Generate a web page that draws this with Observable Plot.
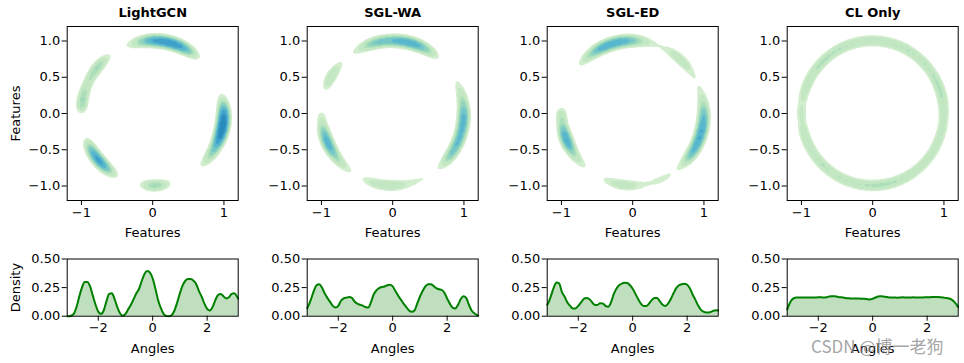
<!DOCTYPE html>
<html>
<head>
<meta charset="utf-8">
<script src="https://cdn.jsdelivr.net/npm/d3@7"></script>
<script src="https://cdn.jsdelivr.net/npm/@observablehq/plot@0.6"></script>
<style>
  html, body { margin: 0; padding: 0; background: #ffffff; }
  #root { position: relative; width: 964px; height: 363px; overflow: hidden; background: #ffffff; }
  .layer { position: absolute; }
  .layer svg { max-width: none !important; display: block; }
  #watermark { position: absolute; left: 811px; top: 338px; line-height: 16px; font-family: "Noto Sans CJK SC", "DejaVu Sans", sans-serif;
    font-size: 17px; color: rgba(140,140,140,0.8); white-space: nowrap; }
</style>
</head>
<body>
<div id="root"></div>
<script>
// ---------------- data ----------------
const titles = ["LightGCN", "SGL-WA", "SGL-ED", "CL Only"];
const featureTicksX = [-1, 0, 1];
const featureTicksY = [-1, -0.5, 0, 0.5, 1];
const angleTicks = [-2, 0, 2];
const densityTicks = [0, 0.25, 0.5];

// angle grid (radians)
const angles = [
  -3.14, -3.1, -3.0, -2.9, -2.8, -2.7, -2.6, -2.5, -2.4, -2.3,
  -2.2, -2.1, -2.0, -1.9, -1.8, -1.7, -1.6, -1.5, -1.4, -1.3,
  -1.2, -1.1, -1.0, -0.9, -0.8, -0.7, -0.6, -0.5, -0.4, -0.3,
  -0.2, -0.1, 0.0, 0.1, 0.2, 0.3, 0.4, 0.5, 0.6, 0.7,
  0.8, 0.9, 1.0, 1.1, 1.2, 1.3, 1.4, 1.5, 1.6, 1.7,
  1.8, 1.9, 2.0, 2.1, 2.2, 2.3, 2.4, 2.5, 2.6, 2.7,
  2.8, 2.9, 3.0, 3.1, 3.14
];

// angle densities
const lightgcnDensity = [
  0.0, 0.0, 0.004, 0.02, 0.08, 0.17, 0.25, 0.30, 0.30, 0.26,
  0.18, 0.10, 0.04, 0.02, 0.05, 0.13, 0.195, 0.20, 0.15, 0.08,
  0.025, 0.004, 0.02, 0.06, 0.10, 0.15, 0.20, 0.24, 0.31, 0.37,
  0.395, 0.38, 0.33, 0.24, 0.14, 0.07, 0.02, 0.003, 0.0, 0.01,
  0.05, 0.12, 0.20, 0.27, 0.31, 0.325, 0.325, 0.31, 0.28, 0.22,
  0.17, 0.11, 0.065, 0.05, 0.08, 0.14, 0.185, 0.195, 0.175, 0.155,
  0.165, 0.195, 0.20, 0.17, 0.155
];
const sglwaDensity = [
  0.07, 0.09, 0.15, 0.22, 0.27, 0.28, 0.25, 0.20, 0.16, 0.125,
  0.09, 0.075, 0.09, 0.135, 0.155, 0.162, 0.168, 0.16, 0.128, 0.11,
  0.10, 0.092, 0.08, 0.075, 0.12, 0.19, 0.225, 0.245, 0.255, 0.26,
  0.27, 0.275, 0.26, 0.22, 0.18, 0.145, 0.11, 0.08, 0.05, 0.038,
  0.05, 0.11, 0.17, 0.22, 0.26, 0.28, 0.28, 0.265, 0.245, 0.235,
  0.23, 0.205, 0.155, 0.11, 0.075, 0.068, 0.10, 0.15, 0.175, 0.16,
  0.10, 0.05, 0.025, 0.01, 0.005
];
const sgledDensity = [
  0.10, 0.115, 0.18, 0.25, 0.295, 0.285, 0.21, 0.17, 0.12, 0.09,
  0.068, 0.068, 0.09, 0.12, 0.15, 0.16, 0.15, 0.125, 0.10, 0.098,
  0.113, 0.112, 0.09, 0.082, 0.12, 0.19, 0.24, 0.27, 0.285, 0.292,
  0.29, 0.27, 0.24, 0.195, 0.15, 0.11, 0.09, 0.09, 0.11, 0.14,
  0.16, 0.16, 0.13, 0.10, 0.09, 0.11, 0.15, 0.20, 0.245, 0.27,
  0.28, 0.283, 0.275, 0.245, 0.19, 0.145, 0.095, 0.058, 0.04, 0.033,
  0.033, 0.04, 0.05, 0.052, 0.05
];
const clonlyDensity = [
  0.06, 0.085, 0.135, 0.157, 0.163, 0.164, 0.163, 0.163, 0.164, 0.163,
  0.163, 0.164, 0.165, 0.165, 0.164, 0.166, 0.172, 0.175, 0.174, 0.17,
  0.166, 0.164, 0.16, 0.157, 0.155, 0.155, 0.154, 0.154, 0.153, 0.152,
  0.149, 0.147, 0.153, 0.163, 0.172, 0.175, 0.173, 0.168, 0.164, 0.163,
  0.164, 0.162, 0.163, 0.165, 0.164, 0.163, 0.164, 0.165, 0.164, 0.164,
  0.164, 0.165, 0.165, 0.166, 0.167, 0.168, 0.168, 0.166, 0.163, 0.16,
  0.155, 0.145, 0.125, 0.095, 0.08
];
const seriesValues = [lightgcnDensity, sglwaDensity, sgledDensity, clonlyDensity];

// ---------------- layout / style ----------------
const FONT = {background: "transparent", fontFamily: "'DejaVu Sans', sans-serif", fontSize: "13px", color: "#000"};
const COL = 240;
const ML = 66.7, MR = 2.3;
const frameW = COL - ML - MR;       // 171
const topMT = 26, topMB = 45, topH = 245;
const frameH = topH - topMT - topMB; // 174
const SS = 4;                        // supersampling for the density contours
const BW = 4.5;                      // kde bandwidth, px
const levelFractions = [0.25, 0.33, 0.44, 0.5, 0.57, 0.65, 0.75, 0.87];
const levelShades = [0.2, 0.28, 0.36, 0.44, 0.52, 0.6, 0.68, 0.76];   // positions in GnBu
const TXT = {lineAnchor: "middle", textAnchor: "middle", text: d => d};

const root = document.getElementById("root");
function place(node, left, top, w, h) {
  const div = document.createElement("div");
  div.className = "layer";
  div.style.left = left + "px";
  div.style.top = top + "px";
  if (w) {
    if (!node.getAttribute("viewBox")) node.setAttribute("viewBox", `0 0 ${node.getAttribute("width")} ${node.getAttribute("height")}`);
    node.setAttribute("width", w); node.setAttribute("height", h);
    node.style.width = w + "px"; node.style.height = h + "px";
  }
  div.appendChild(node);
  root.appendChild(div);
}

const tables = seriesValues.map(vals => angles.map((a, i) => ({angle: a, density: vals[i]})));

function densityPlot(table, thresholds, color) {
  return Plot.plot({
    width: frameW * SS, height: frameH * SS, margin: 0,
    style: {background: "transparent"},
    x: {domain: [-1.2, 1.2], axis: null},
    y: {domain: [-1.2, 1.2], axis: null},
    color,
    marks: [
      Plot.density(table, {
        // 3.14 and -3.14 are the same point on the circle: keep one of them
        filter: d => d.angle < 3.12,
        x: d => Math.cos(d.angle), y: d => Math.sin(d.angle), weight: "density",
        bandwidth: BW * SS, thresholds, fill: "density", stroke: "none"
      })
    ]
  });
}

// probe the shared maximum density so that all panels use the same levels
let globalMax = 0;
tables.forEach(t => {
  const p = densityPlot(t, 200, {type: "linear"});
  const dom = p.scale("color").domain;
  globalMax = Math.max(globalMax, d3.max(dom));
});
const T = levelFractions.map(f => f * globalMax);
const colorOpts = {type: "ordinal", domain: T, range: levelShades.map(s => d3.interpolateGnBu(s))};

tables.forEach((table, i) => {
  // density contours (drawn below the axes)
  place(densityPlot(table, T, colorOpts), COL * i + ML, topMT, frameW, frameH);

  // top axes
  const topMarks = [
    Plot.frame({stroke: "#000", strokeWidth: 1}),
    Plot.text([titles[i]], {...TXT, frameAnchor: "top", dy: -13.5, fontWeight: "bold"}),
    Plot.text(["Features"], {...TXT, frameAnchor: "bottom", dy: 32.3})
  ];
  if (i === 0) topMarks.push(Plot.text(["Features"], {...TXT, frameAnchor: "left", dx: -51.2, rotate: -90}));
  place(Plot.plot({
    width: COL, height: topH, marginLeft: ML, marginRight: MR, marginTop: topMT, marginBottom: topMB,
    style: FONT,
    x: {domain: [-1.2, 1.2], ticks: featureTicksX, tickFormat: "d", tickSize: 5, tickPadding: 2, label: null},
    y: {domain: [-1.2, 1.2], ticks: featureTicksY, tickFormat: ".1f", tickSize: 5, tickPadding: 2, label: null},
    marks: topMarks
  }), COL * i, 0);

  // bottom: angle density
  const botMarks = [
    Plot.areaY(table, {x: "angle", y: "density", fill: "#008000", fillOpacity: 0.25, curve: "monotone-x"}),
    Plot.lineY(table, {x: "angle", y: "density", stroke: "#008000", strokeWidth: 2, curve: "monotone-x"}),
    Plot.frame({stroke: "#000", strokeWidth: 1}),
    Plot.text(["Angles"], {...TXT, frameAnchor: "bottom", dy: 32.3})
  ];
  if (i === 0) botMarks.push(Plot.text(["Density"], {...TXT, frameAnchor: "left", dx: -51.2, rotate: -90}));
  place(Plot.plot({
    width: COL, height: 118, marginLeft: ML, marginRight: MR, marginTop: 13.5, marginBottom: 47.3,
    style: FONT,
    x: {domain: [-Math.PI, Math.PI], ticks: angleTicks, tickFormat: "d", tickSize: 5, tickPadding: 2, label: null},
    y: {domain: [0, 0.5], ticks: densityTicks, tickFormat: ".2f", tickSize: 5, tickPadding: 2, label: null},
    marks: botMarks
  }), COL * i, 245);
});

const wm = document.createElement("div");
wm.id = "watermark";
wm.textContent = "CSDN @博一老狗";
root.appendChild(wm);
</script>
</body>
</html>
